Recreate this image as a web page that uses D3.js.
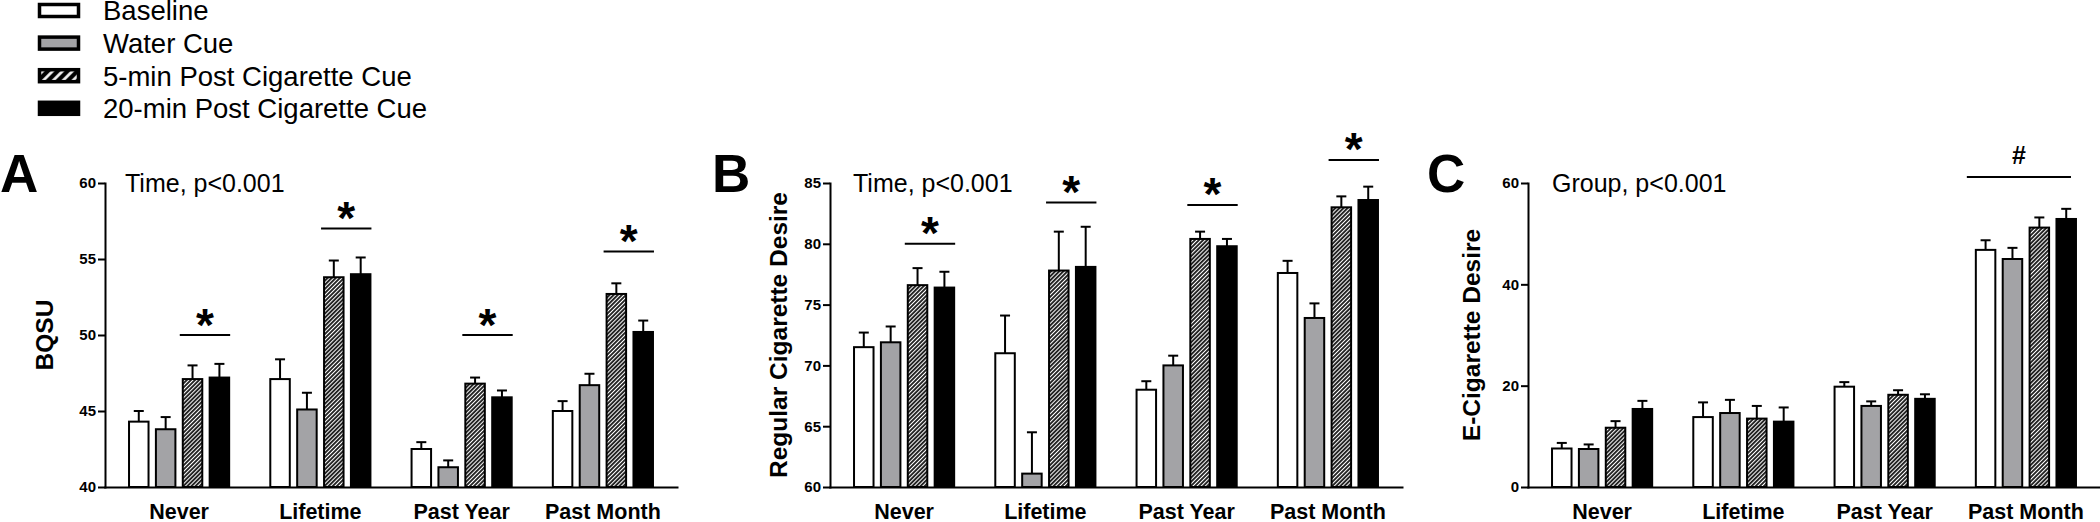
<!DOCTYPE html>
<html><head><meta charset="utf-8">
<script src="https://cdn.jsdelivr.net/npm/d3@7"></script>
<style>
body{margin:0;background:#fff}
svg{display:block;background:#fff}
text{font-family:"Liberation Sans",Arial,Helvetica,sans-serif;fill:#000}
</style></head><body>
<svg id="chart" width="2100" height="522"></svg>
<script>
// ---------- DATA ----------
const categories = ["Never", "Lifetime", "Past Year", "Past Month"];
const seriesNames = ["Baseline", "Water Cue", "5-min Post Cigarette Cue", "20-min Post Cigarette Cue"];

// Panel A: BQSU (rows = categories, cols = series)
const bqsuMean = [[44.3, 43.8, 47.1, 47.2], [47.1, 45.1, 53.8, 54.0], [42.5, 41.3, 46.8, 45.9], [45.0, 46.7, 52.7, 50.2]];
const bqsuSem  = [[0.7, 0.8, 0.9, 0.9], [1.3, 1.1, 1.1, 1.1], [0.45, 0.45, 0.4, 0.45], [0.65, 0.75, 0.7, 0.75]];
const bqsuTicks = [40, 45, 50, 55, 60];
const bqsuSig = [50, 57, 50, 55.5];

// Panel B: Regular Cigarette Desire
const regMean = [[71.5, 71.9, 76.6, 76.4], [71.0, 61.1, 77.8, 78.1], [68.0, 70.0, 80.4, 79.8], [77.6, 73.9, 83.0, 83.6]];
const regSem  = [[1.2, 1.3, 1.4, 1.3], [3.1, 3.4, 3.2, 3.3], [0.7, 0.8, 0.6, 0.6], [1.0, 1.2, 0.9, 1.1]];
const regTicks = [60, 65, 70, 75, 80, 85];
const regSig = [80, 83.4, 83.2, 86.9];

// Panel C: E-Cigarette Desire
const ecigMean = [[7.6, 7.5, 11.7, 15.4], [13.8, 14.6, 13.5, 12.9], [19.8, 16.0, 18.2, 17.4], [46.8, 45.0, 51.2, 52.9]];
const ecigSem  = [[1.1, 0.9, 1.3, 1.6], [2.9, 2.6, 2.5, 2.8], [0.9, 0.9, 0.9, 0.9], [1.9, 2.2, 2.0, 2.0]];
const ecigTicks = [0, 20, 40, 60];
const ecigSig = [null, null, null, 61.2];

// ---------- LAYOUT ----------
const FONT = '"Liberation Sans",Arial,Helvetica,sans-serif';
const yTop = 183, yBot = 487, axisW = 572;
const fills = ["#ffffff", "#a3a3a6", "url(#hatch)", "#000000"];

const panels = [
  {letter: "A", ylabel: "BQSU", note: "Time, p<0.001", mean: bqsuMean, sem: bqsuSem, ticks: bqsuTicks, sig: bqsuSig, mark: "*", span: "post",
   ax: 105, letterX: 0, noteX: 125, ylabX: 44},
  {letter: "B", ylabel: "Regular Cigarette Desire", note: "Time, p<0.001", mean: regMean, sem: regSem, ticks: regTicks, sig: regSig, mark: "*", span: "post",
   ax: 830, letterX: 712, noteX: 853, ylabX: 778},
  {letter: "C", ylabel: "E-Cigarette Desire", note: "Group, p<0.001", mean: ecigMean, sem: ecigSem, ticks: ecigTicks, sig: ecigSig, mark: "#", span: "all",
   ax: 1528, letterX: 1427, noteX: 1552, ylabX: 1471}
];

const svg = d3.select("#chart");
svg.append("rect").attr("width", 2100).attr("height", 522).attr("fill", "#fff");
const defs = svg.append("defs");

function makeHatch(id, period, lw) {
  const p = defs.append("pattern").attr("id", id).attr("patternUnits", "userSpaceOnUse")
    .attr("width", period).attr("height", period).attr("patternTransform", "rotate(45)");
  p.append("rect").attr("width", period).attr("height", period).attr("fill", "#000");
  p.append("line").attr("x1", period / 2).attr("x2", period / 2).attr("y1", 0).attr("y2", period)
    .attr("stroke", "#fff").attr("stroke-width", lw);
}
makeHatch("hatch", 2.9, 1.25);
makeHatch("hatchLegend", 7, 2.6);

// ---------- LEGEND ----------
const legendFills = ["#ffffff", "#a3a3a6", "url(#hatchLegend)", "#000000"];
const leg = svg.append("g");
seriesNames.forEach((name, i) => {
  const cy = 10.5 + i * 32.6;
  leg.append("rect").attr("x", 39.5).attr("y", cy - 6).attr("width", 39).attr("height", 12)
    .attr("fill", legendFills[i]).attr("stroke", "#000").attr("stroke-width", 3.5);
  leg.append("text").attr("x", 103).attr("y", cy).attr("dy", "0.36em")
    .style("font-size", "27.5px").text(name);
});

// ---------- PANELS ----------
panels.forEach(p => {
  const g = svg.append("g");
  const y = d3.scaleLinear().domain([p.ticks[0], p.ticks[p.ticks.length - 1]]).range([yBot, yTop]);
  const x0 = d3.scaleBand().domain(categories).range([p.ax, p.ax + axisW]).paddingInner(0.277).paddingOuter(0.163);
  const x1 = d3.scaleBand().domain(d3.range(seriesNames.length)).range([0, x0.bandwidth()]).paddingInner(0.2);
  const bw = x1.bandwidth();

  // bars + error bars
  categories.forEach((c, ci) => {
    const gg = g.append("g").attr("transform", `translate(${x0(c)},0)`);
    const rows = p.mean[ci].map((m, si) => ({m, s: p.sem[ci][si], si}));
    gg.selectAll("line.err").data(rows).join("line").attr("class", "err")
      .attr("x1", d => x1(d.si) + bw / 2).attr("x2", d => x1(d.si) + bw / 2)
      .attr("y1", d => y(d.m)).attr("y2", d => y(d.m + d.s))
      .attr("stroke", "#000").attr("stroke-width", 2);
    gg.selectAll("line.cap").data(rows).join("line").attr("class", "cap")
      .attr("x1", d => x1(d.si) + bw / 2 - 5).attr("x2", d => x1(d.si) + bw / 2 + 5)
      .attr("y1", d => y(d.m + d.s)).attr("y2", d => y(d.m + d.s))
      .attr("stroke", "#000").attr("stroke-width", 2);
    gg.selectAll("rect.bar").data(rows).join("rect").attr("class", "bar")
      .attr("x", d => x1(d.si) + 1).attr("width", bw - 2)
      .attr("y", d => y(d.m)).attr("height", d => yBot - y(d.m))
      .attr("fill", d => fills[d.si]).attr("stroke", "#000").attr("stroke-width", 2);

    // significance
    const lvl = p.sig[ci];
    if (lvl != null) {
      let xa, xb;
      if (p.span === "post") { xa = x1(2) - 2; xb = x1(3) + bw; }
      else { xa = x1(0) - 8; xb = x1(3) + bw - 6; }
      gg.append("line").attr("x1", xa).attr("x2", xb).attr("y1", y(lvl)).attr("y2", y(lvl))
        .attr("stroke", "#000").attr("stroke-width", 2);
      if (p.mark === "*") {
        gg.append("text").attr("x", (xa + xb) / 2).attr("y", y(lvl) + 5.5).attr("text-anchor", "middle")
          .style("font-size", "46px").style("font-weight", "bold").text("*");
      } else {
        gg.append("text").attr("x", (xa + xb) / 2).attr("y", y(lvl) - 13).attr("text-anchor", "middle")
          .style("font-size", "25px").style("font-weight", "bold").text(p.mark);
      }
    }
  });

  // y axis
  const yAxis = d3.axisLeft(y).tickValues(p.ticks).tickSize(7).tickSizeOuter(0).tickPadding(2);
  const ya = g.append("g").attr("transform", `translate(${p.ax},0)`).call(yAxis);
  ya.select(".domain").attr("stroke-width", 2).attr("stroke-linecap", "square");
  ya.selectAll(".tick line").attr("stroke-width", 2);
  ya.selectAll(".tick text").style("font-family", FONT).style("font-size", "15px").style("font-weight", "bold").attr("fill", "#000");

  // x axis
  const xAxis = d3.axisBottom(x0).tickSize(0).tickSizeOuter(0).tickPadding(17);
  const xa = g.append("g").attr("transform", `translate(0,${yBot})`).call(xAxis);
  xa.select(".domain").attr("stroke-width", 2).attr("stroke-linecap", "square");
  xa.selectAll(".tick text").style("font-family", FONT).style("font-size", "21.5px").style("font-weight", "bold").attr("fill", "#000");

  // y label
  g.append("text").attr("transform", `translate(${p.ylabX},${(yTop + yBot) / 2}) rotate(-90)`)
    .attr("text-anchor", "middle").attr("dy", "0.36em")
    .style("font-size", "24.5px").style("font-weight", "bold").text(p.ylabel);

  // panel letter
  g.append("text").attr("x", p.letterX).attr("y", 192)
    .style("font-size", "53px").style("font-weight", "bold").text(p.letter);

  // note
  g.append("text").attr("x", p.noteX).attr("y", 192)
    .style("font-size", "25px").text(p.note);
});
</script>
</body></html>
